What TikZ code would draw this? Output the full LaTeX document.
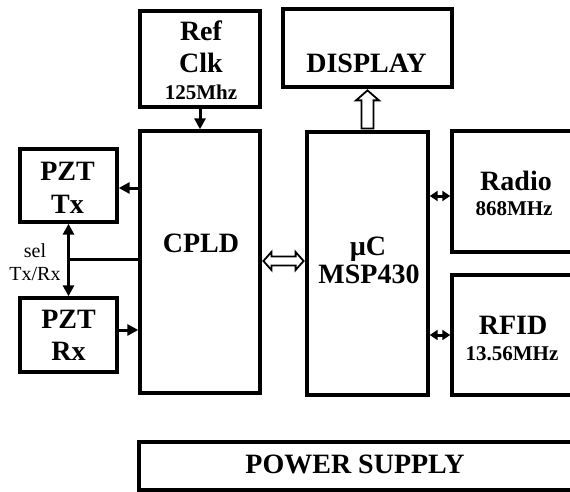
\documentclass[tikz,border=0pt]{standalone}
\usepackage{fontspec}
\setmainfont{Liberation Serif}
\usetikzlibrary{arrows.meta,calc}
\begin{document}
\begin{tikzpicture}[x=1pt,y=-1pt,
  box/.style={draw, line width=3.4pt, rectangle, inner sep=0pt},
  big/.style={font=\bfseries\fontsize{28}{32}\selectfont, anchor=base, inner sep=0pt},
  small/.style={font=\bfseries\fontsize{21}{24}\selectfont, anchor=base, inner sep=0pt},
  plain/.style={font=\fontsize{20}{24}\selectfont, anchor=base, inner sep=0pt},
  conn/.style={line width=3pt},
  arr/.style={conn, -{Triangle[length=11pt,width=11pt]}},
  darr/.style={conn, {Triangle[length=11pt,width=11pt]}-{Triangle[length=11pt,width=11pt]}},
  sdarr/.style={line width=3pt, {Triangle[length=8pt,width=10pt]}-{Triangle[length=8pt,width=10pt]}},
  hollow/.style={draw, fill=white, line width=1.8pt, line join=miter}
]
\useasboundingbox (0,0) rectangle (570,492);
\clip (0,0) rectangle (570,492);

% boxes
\node[box, minimum width=120pt, minimum height=96pt] (refclk) at (200,59) {};
\node[box, minimum width=169pt, minimum height=78pt] (display) at (367.5,48) {};
\node[box, minimum width=120pt, minimum height=262pt] (cpld) at (200,262) {};
\node[box, minimum width=121pt, minimum height=263pt] (mcu) at (367.5,263.5) {};
\node[box, minimum width=125pt, minimum height=121pt] (radio) at (514.5,191.5) {};
\node[box, minimum width=125pt, minimum height=120pt] (rfid) at (514.5,335) {};
\node[box, minimum width=433pt, minimum height=48pt] (power) at (355.5,466) {};
\node[box, minimum width=97pt, minimum height=73pt] (pztx) at (68.5,185.5) {};
\node[box, minimum width=97pt, minimum height=74pt] (pzrx) at (68.5,335) {};

% texts
\node[big] (reft) at (201,41) {Ref};
\node[big] (clkt) at (201,73) {Clk};
\node[small] (freqclk) at (201,100) {125Mhz};
\node[big] (dispt) at (366.5,73) {DISPLAY};
\node[big] (cpldt) at (201,252) {CPLD};
\node[big] (mcut) at (368,255) {µC};
\node[big] (mspt) at (369,283) {MSP430};
\node[big] (radiot) at (516,190) {Radio};
\node[small] (radiof) at (514,215) {868MHz};
\node[big] (rfidt) at (513,334) {RFID};
\node[small] (rfidf) at (512,360) {13.56MHz};
\node[big] (powert) at (355,473) {POWER SUPPLY};
\node[big] (pztxa) at (67.5,180) {PZT};
\node[big] (pztxb) at (67.5,213) {Tx};
\node[big] (pzrxa) at (68.5,328) {PZT};
\node[big] (pzrxb) at (68.5,360) {Rx};
\node[plain] (sel) at (35,257) {sel};
\node[plain] (txrx) at (35,280) {Tx/Rx};

% black connectors
\draw[arr] (refclk) -- (cpld);
\draw[arr] ([yshift=-2.5pt]cpld.west |- pztx.east) -- ([yshift=-2.5pt]pztx.east);
\draw[arr] ([yshift=5pt]pzrx.east) -- ([yshift=5pt]cpld.west |- pzrx.east);
\draw[darr] (pztx.south) -- (pzrx.north);
\coordinate (selj) at (pztx.south |- 0,259);
\draw[conn] (selj) -- (cpld.west |- selj);
\draw[sdarr] ([yshift=-4.5pt]mcu.east |- radio.west) -- ([yshift=-4.5pt]radio.west);
\draw[sdarr] (mcu.east |- rfid.west) -- (rfid.west);

% hollow CPLD <-> uC
\coordinate (ha) at ([xshift=1.7pt]cpld.east |- 0,261);
\coordinate (hb) at ([xshift=-1.7pt]mcu.west |- 0,261);
\draw[hollow] (ha) -- ++(8,-9) -- ++(0,4.5) -- ($(hb)+(-8,-4.5)$) -- ++(0,-4.5) -- (hb)
  -- ++(-8,9) -- ++(0,-4.5) -- ($(ha)+(8,4.5)$) -- ++(0,4.5) -- cycle;

% hollow uC -> DISPLAY
\coordinate (dtip) at ([yshift=-1.7pt]display.south);
\coordinate (dbase) at ([yshift=1.7pt]mcu.north);
\draw[hollow] (dtip) -- ($(dtip)+(11.5,10)$) -- ($(dtip)+(6,10)$) -- ($(dbase)+(6,0)$)
  -- ($(dbase)+(-6,0)$) -- ($(dtip)+(-6,10)$) -- ($(dtip)+(-11.5,10)$) -- cycle;
\end{tikzpicture}
\end{document}
